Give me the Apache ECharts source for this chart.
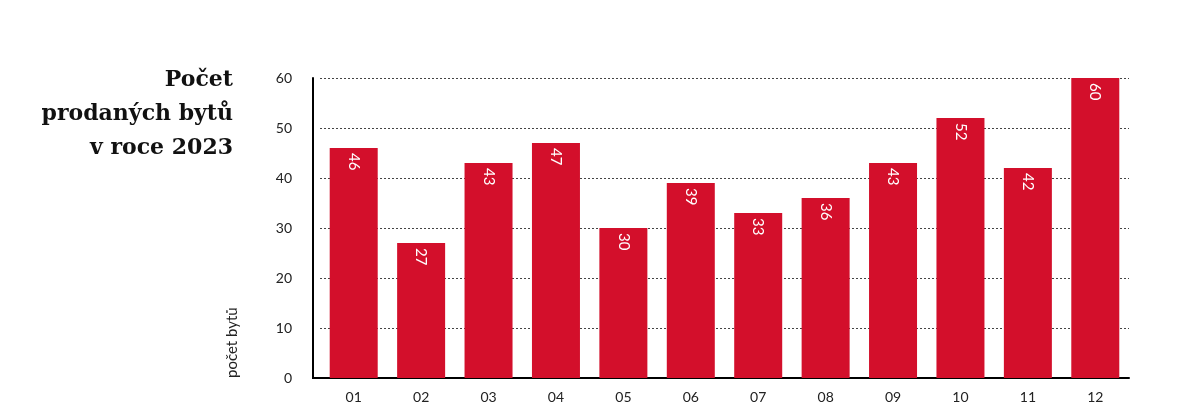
<!DOCTYPE html>
<html><head><meta charset="utf-8">
<script src="https://cdn.jsdelivr.net/npm/echarts@6/dist/echarts.min.js"></script>
<style>html,body{margin:0;padding:0;background:#fff}#c{width:1200px;height:413px}</style>
</head><body><div id="c"></div>
<script>
const categories = ['01','02','03','04','05','06','07','08','09','10','11','12'];
const values = [46,27,43,47,30,39,33,36,43,52,42,60];
const yTicks = {min:0, max:60, interval:10};
const titleText = 'Počet\nprodaných bytů\nv roce 2023';
const yName = 'počet bytů';

const chart = echarts.init(document.getElementById('c'), null, {renderer:'canvas'});
chart.setOption({
  backgroundColor:'#fff',
  animation:false,
  title:{text:titleText, left:228, top:58, textAlign:'right',
    textStyle:{fontFamily:'DejaVu Serif', fontWeight:'bold', fontSize:22, lineHeight:34, color:'#111'}},
  graphic:[
    {type:'text', x:232, y:378, rotation:Math.PI/2,
      style:{text:yName, font:'15px Lato', fill:'#222', textAlign:'left', textVerticalAlign:'middle'}},
    {type:'line', shape:{x1:312, y1:378, x2:321, y2:378}, style:{stroke:'#000', lineWidth:2}}
  ],
  grid:{left:320, right:71, top:78, bottom:35},
  xAxis:{type:'category', data:categories,
    axisLine:{lineStyle:{color:'#000', width:2}}, axisTick:{show:false},
    axisLabel:{color:'#222', fontSize:14, fontFamily:'Lato', margin:12}},
  yAxis:{type:'value', min:yTicks.min, max:yTicks.max, interval:yTicks.interval, offset:7,
    axisLine:{show:true, lineStyle:{color:'#000', width:2}}, axisTick:{show:false},
    axisLabel:{color:'#222', fontSize:14, fontFamily:'Lato', margin:21},
    splitLine:{lineStyle:{color:'#444', type:[2,2], width:1}}},
  series:[{type:'bar', data:values, barWidth:48, itemStyle:{color:'#d30f2b'},
    label:{show:true, position:'insideTop', rotate:-90, align:'left', verticalAlign:'middle',
      distance:5, color:'#fff', fontSize:15, fontFamily:'Lato'}}]
});
</script></body></html>
